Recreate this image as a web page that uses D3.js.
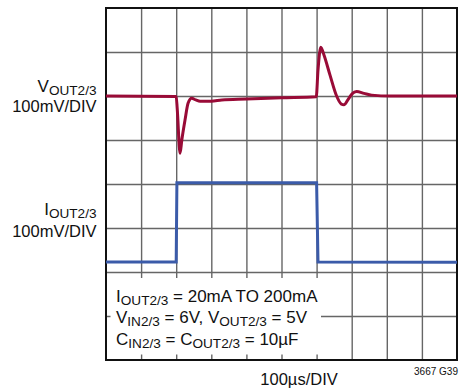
<!DOCTYPE html>
<html>
<head>
<meta charset="utf-8">
<script src="https://cdn.jsdelivr.net/npm/d3@7"></script>
<style>
  body { margin: 0; background: #fff; }
  text { font-family: "Liberation Sans", Arial, sans-serif; fill: #111; }
</style>
</head>
<body>
<script>
// scope settings
var timePerDiv = 100;   // µs/DIV
var vPerDiv = 100;      // mV/DIV
var iPerDiv = 100;      // mA/DIV
var vOffsetDiv = 6;     // channel position (divisions from bottom)
var iOffsetDiv = 2.03;

// V_OUT2/3 deviation, mV vs time, µs
var vTime = [0, 200, 203, 211, 216, 225, 234, 244, 256, 268, 300, 330, 400, 500, 599,
             604, 612, 621, 638, 657, 670, 678, 689, 701, 714, 735, 757, 810, 1000];
var vOut  = [0, -1, -30, -130, -100, -55, -16, -5, -9, -12, -12, -9, -7, -4, -1.5,
             59, 111, 93, 48, 0, -18, -20, -9, 5, 10, 6, 2, 0, 0];

// I_OUT2/3 load current, mA vs time, µs
var iTime = [0, 200, 202, 600, 604, 1000];
var iOut  = [20, 20, 200, 200, 20, 19];

var conditions = [
  [["I", ""], ["OUT2/3", "sub"], [" = 20mA TO 200mA", ""]],
  [["V", ""], ["IN2/3", "sub"], [" = 6V, V", ""], ["OUT2/3", "sub"], [" = 5V", ""]],
  [["C", ""], ["IN2/3", "sub"], [" = C", ""], ["OUT2/3", "sub"], [" = 10µF", ""]]
];

var w = 470, h = 392;
var margin = {top: 8, right: 13, bottom: 32, left: 106};
var pw = w - margin.left - margin.right;
var ph = h - margin.top - margin.bottom;

var svg = d3.select("body").append("svg")
  .attr("width", w)
  .attr("height", h);

var x = d3.scaleLinear().domain([0, 10 * timePerDiv]).range([margin.left, margin.left + pw]);
var y = d3.scaleLinear().domain([0, 8]).range([margin.top + ph, margin.top]);

//Grid
var gx = svg.append("g")
  .attr("transform", "translate(0," + (margin.top + ph) + ")")
  .call(d3.axisBottom(x).tickValues(d3.range(1, 10).map(function(d){ return d * timePerDiv; }))
    .tickSize(-ph).tickFormat(""));
var gy = svg.append("g")
  .attr("transform", "translate(" + margin.left + ",0)")
  .call(d3.axisLeft(y).tickValues(d3.range(1, 8)).tickSize(-pw).tickFormat(""));
svg.selectAll(".domain").remove();
svg.selectAll(".tick line").attr("stroke", "#666").attr("stroke-width", 1.4);

//Condition box covering the grid
svg.append("rect")
  .attr("x", margin.left + 4.5)
  .attr("y", 278)
  .attr("width", 210.5)
  .attr("height", 76.5)
  .attr("fill", "#fff");

//Frame
svg.append("rect")
  .attr("x", margin.left)
  .attr("y", margin.top)
  .attr("width", pw)
  .attr("height", ph)
  .attr("fill", "none")
  .attr("stroke", "#111")
  .attr("stroke-width", 2);

//Traces
var vLine = d3.line()
  .x(function(d, i){ return x(vTime[i]); })
  .y(function(d){ return y(vOffsetDiv + d / vPerDiv); })
  .curve(d3.curveMonotoneX);

var iLine = d3.line()
  .x(function(d, i){ return x(iTime[i]); })
  .y(function(d){ return y(iOffsetDiv + d / iPerDiv); });

svg.append("path")
  .datum(iOut)
  .attr("d", iLine)
  .attr("fill", "none")
  .attr("stroke", "#3b5ba9")
  .attr("stroke-width", 3);

svg.append("path")
  .datum(vOut)
  .attr("d", vLine)
  .attr("fill", "none")
  .attr("stroke", "#990b37")
  .attr("stroke-width", 3);

//Text helpers
function richText(parent, parts, xPos, yPos, size, anchor) {
  var t = parent.append("text")
    .attr("x", xPos)
    .attr("y", yPos)
    .attr("text-anchor", anchor || "start")
    .style("font-size", size + "px");
  var down = false;
  parts.forEach(function(p) {
    var span = t.append("tspan").text(p[0]);
    if (p[1] == "sub") {
      span.style("font-size", (size * 0.8) + "px");
      if (!down) { span.attr("dy", 3); down = true; }
    } else if (down) {
      span.attr("dy", -3); down = false;
    }
  });
  return t;
}

//Channel labels
richText(svg, [["V", ""], ["OUT2/3", "sub"]], 96.5, 91.5, 17, "end");
richText(svg, [["100mV/DIV", ""]], 96.5, 111.5, 16.5, "end");
richText(svg, [["I", ""], ["OUT2/3", "sub"]], 96.5, 215, 17, "end");
richText(svg, [["100mV/DIV", ""]], 96.5, 236.5, 16.5, "end");

//Conditions
conditions.forEach(function(parts, i) {
  richText(svg, parts, 116, 301.5 + i * 21.7, 17, "start");
});

//Time base and figure id
svg.append("text")
  .attr("x", x(5.5 * timePerDiv))
  .attr("y", 385)
  .attr("text-anchor", "middle")
  .style("font-size", "16.5px")
  .text("100µs/DIV");

svg.append("text")
  .attr("x", 458)
  .attr("y", 375)
  .attr("text-anchor", "end")
  .style("font-size", "10px")
  .text("3667 G39");
</script>
</body>
</html>
